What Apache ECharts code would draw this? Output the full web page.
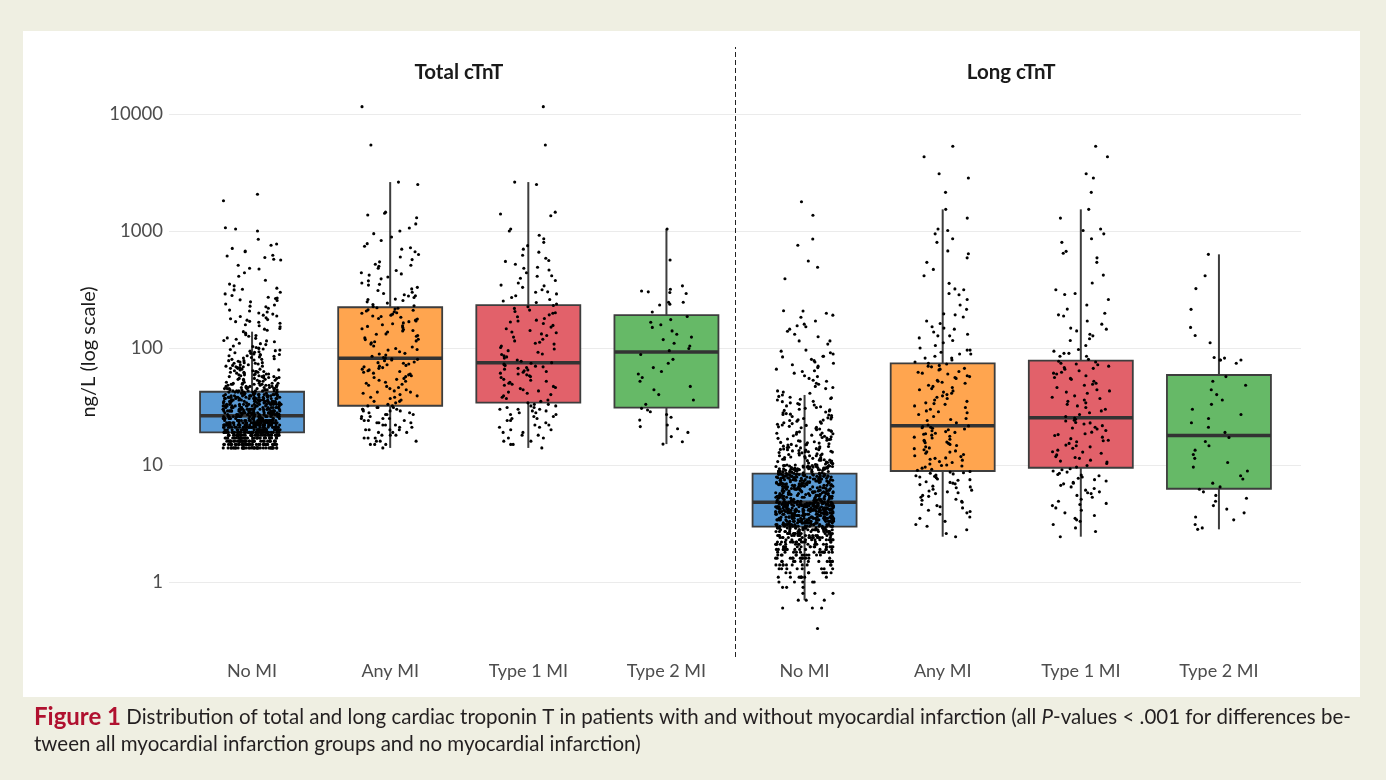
<!DOCTYPE html>
<html><head><meta charset="utf-8">
<script src="https://cdn.jsdelivr.net/npm/echarts@6/dist/echarts.min.js"></script>
<style>html,body{margin:0;padding:0;background:#efefe2;}#c{width:1386px;height:780px;}</style>
</head><body><div id="c"></div>
<script>
// ---------------- data ----------------
const categories = ['No MI','Any MI','Type 1 MI','Type 2 MI','No MI','Any MI','Type 1 MI','Type 2 MI'];
const panelTitles = ['Total cTnT','Long cTnT'];
const yTicks = [1,10,100,1000,10000];
// box stats: [lower whisker, Q1, median, Q3, upper whisker]
const boxTotal = [[14,19.0,26.4,42.3,138],[14,32.1,81.6,223,2620],[14,34.1,74.9,233,2620],[15.1,30.9,92.4,191,1040]];
const boxLong  = [[0.7,2.97,4.8,8.43,39.7],[2.44,8.89,21.7,74.0,1532],[2.44,9.48,25.4,77.9,1532],[2.82,6.27,17.9,58.8,632]];

const totNoMI = [
14,14,14,14,14,14,14,14,14,14,14,14,14,14,14,14,14,14,14,14,14,14,14,14,14,14,14,14,14,14,14,14,14,14,14,14,14,14,
15,15,15,15,15,15,15,15,15,15,15,15,15,15,15,15,15,15,15,15,15,15,15,15,15,15,15,15,15,15,15,15,15,15,15,15,15,15,
16,16,16,16,16,16,16,16,16,16,16,16,16,16,16,16,16,16,16,16,16,16,16,16,16,16,16,16,16,16,16,16,16,16,16,16,16,
17,17,17,17,17,17,17,17,17,17,17,17,17,17,17,17,17,17,17,17,17,17,17,17,17,17,17,17,17,17,17,17,17,17,17,17,
18,18,18,18,18,18,18,18,18,18,18,18,18,18,18,18,18,18,18,18,18,18,18,18,18,18,18,18,18,18,18,18,18,18,18,
19,19,19,19,19,19,19,19,19,19,19,19,19,19,19,19,19,19,19,19,19,19,19,19,19,19,19,19,19,19,19,19,19,19,
20,20,20,20,20,20,20,20,20,20,20,20,20,20,20,20,20,20,20,20,20,20,20,20,20,20,20,20,20,20,20,20,20,
21,21,21,21,21,21,21,21,21,21,21,21,21,21,21,21,21,21,21,21,21,21,21,21,21,21,21,21,21,21,21,21,
22,22,22,22,22,22,22,22,22,22,22,22,22,22,22,22,22,22,22,22,22,22,22,22,22,22,22,22,22,22,22,
23,23,23,23,23,23,23,23,23,23,23,23,23,23,23,23,23,23,23,23,23,23,23,23,23,23,23,23,23,23,
24,24,24,24,24,24,24,24,24,24,24,24,24,24,24,24,24,24,24,24,24,24,24,24,24,24,24,24,24,
25,25,25,25,25,25,25,25,25,25,25,25,25,25,25,25,25,25,25,25,25,25,
26,26,26,26,26,26,26,26,26,26,26,26,26,26,26,26,26,26,26,26,26,
27,27,27,27,27,27,27,27,27,27,27,27,27,27,27,27,27,27,27,27,
28,28,28,28,28,28,28,28,28,28,28,28,28,28,28,28,28,28,28,
29,29,29,29,29,29,29,29,29,29,29,29,29,29,29,29,29,29,
30,30,30,30,30,30,30,30,30,30,30,30,30,30,30,30,30,30,
31,31,31,31,31,31,31,31,31,31,31,31,31,31,31,32,32,32,32,32,32,32,32,32,32,32,32,32,32,
33,33,33,33,33,33,33,33,33,33,33,33,33,33,34,34,34,34,34,34,34,34,34,34,34,34,34,34,
35,35,35,35,35,35,35,35,35,35,35,35,35,36,36,36,36,36,36,36,36,36,36,36,36,36,
37,37,37,37,37,37,37,37,37,37,37,37,38,38,38,38,38,38,38,38,38,38,38,38,
39,39,39,39,39,39,39,39,39,39,39,39,40,40,40,40,40,40,40,40,40,40,40,
41,41,41,41,41,41,42,42,42,42,42,42,42,43,43,43,43,43,43,44,44,44,44,44,44,45,45,45,45,45,45,
46,46,46,46,46,47,47,47,47,47,48,48,48,48,48,49,49,49,49,49,50,50,50,50,50,41,43,45,47,
51,52,53,53,54,55,56,56,57,58,59,60,60,61,62,63,64,65,65,66,67,68,69,70,52,55,58,61,64,67,
51,53,54,55,57,58,59,62,63,66,68,70,54,57,60,63,69,56,59,62,
71,72,73,74,75,76,78,79,80,82,84,85,86,87,88,90,92,93,95,96,98,99,
72,74,77,78,81,83,86,89,91,94,97,100,75,80,88,
101,104,107,110,113,116,119,122,126,130,134,138,103,109,115,121,128,
142,147,152,158,163,168,169,173,175,181,188,191,195,203,211,219,225,228,238,248,
145,155,166,178,186,199,207,233,
255,258,265,267,272,281,290,300,314,318,325,340,352,380,410,440,473,480,510,
565,574,594,611,620,665,675,710,755,774,850,1000,1040,1067,1816,2060
];
const totAny = [
14,15,15,16,16,16,17,17,18,18,18,19,19,19,20,20,20,21,21,22,22,22,23,23,24,24,24,25,25,25,26,26,27,27,27,28,28,29,29,29,30,30,30,31,31,31,32,32,15,17,20,23,
33,34,35,35,36,37,38,38,39,40,41,42,42,43,44,46,47,48,49,50,51,52,54,55,56,57,58,59,61,62,63,64,66,67,68,69,70,72,73,74,75,76,78,79,80,81,82,45,53,60,65,71,
83,85,87,89,90,93,96,97,99,102,104,108,111,113,115,118,119,122,126,128,131,132,137,140,141,144,146,150,153,155,158,161,164,168,170,173,177,179,183,186,188,191,195,198,200,204,207,210,212,215,219,221,
226,230,235,242,248,255,260,262,270,278,280,285,292,300,310,320,330,345,350,360,375,390,405,420,430,440,460,480,500,510,520,545,570,600,630,665,700,720,740,780,830,890,950,1000,1060,1150,1300,1370,1420,1450,2500,2620,
5430,11560
];
const totType1 = [
14,15,15,16,16,17,18,18,19,19,20,20,21,22,22,23,24,24,25,26,26,27,28,28,29,29,30,30,31,31,32,32,33,33,34,17,21,25,27,30,
35,36,37,38,39,40,41,42,43,44,45,46,47,48,49,50,52,53,54,56,57,58,60,61,62,64,65,66,67,68,69,70,71,72,73,74,75,51,59,63,
77,79,82,84,86,89,92,95,98,101,104,108,112,115,119,124,128,132,137,141,146,151,156,162,167,173,179,185,192,198,205,211,218,225,231,88,110,135,170,200,
238,245,252,260,270,280,290,302,315,330,345,360,378,395,415,440,465,490,520,550,585,620,660,700,750,800,860,920,1000,1040,1350,1400,1450,2500,2620,300,340,410,480,560,
5430,11560
];
const totType2 = [
15.1,15.8,17.5,19.0,20.4,21.3,22,24.2,25.6,27,28.5,29.5,30.5,
33,36,40,44,47,52,56,60,63,68,74,80,88,
95,99,104,110,118,124,131,140,150,158,166,175,186,
203,233,237,246,246,292,298,302,307,318,340,565,1040
];
const longNoMI = [
0.4,0.6,0.6,0.6,0.7,0.7,0.7,0.8,0.8,0.8,0.9,0.9,0.9,
1,1,1,1,1.1,1.1,1.1,1.1,1.1,1.1,1.2,1.2,1.2,1.2,1.2,1.3,1.3,1.3,1.3,1.3,1.4,1.4,1.4,1.4,1.4,1.4,
1.5,1.5,1.5,1.5,1.5,1.5,1.5,1.6,1.6,1.6,1.6,1.6,1.6,1.7,1.7,1.7,1.7,1.7,1.7,1.8,1.8,1.8,1.8,1.8,1.8,1.8,1.9,1.9,1.9,1.9,1.9,1.9,1.9,
1,1.1,1.1,1.2,1.2,1.3,1.3,1.3,1.4,1.4,1.4,1.5,1.5,1.5,1.6,1.6,1.6,1.7,1.7,1.7,1.8,1.8,1.8,1.9,1.9,1.9,1.9,
1.2,1.4,1.5,1.6,1.7,1.8,1.9,1.5,1.7,1.9,1.6,1.8,
2,2,2,2,2,2,2,2,2,2,2,2,2.1,2.1,2.1,2.1,2.1,2.1,2.1,2.1,2.1,2.1,2.1,2.1,2.2,2.2,2.2,2.2,2.2,2.2,2.2,2.2,2.2,2.2,2.2,2.2,
2.3,2.3,2.3,2.3,2.3,2.3,2.3,2.3,2.3,2.3,2.3,2.3,2.4,2.4,2.4,2.4,2.4,2.4,2.4,2.4,2.4,2.4,2.4,2.4,2.5,2.5,2.5,2.5,2.5,2.5,2.5,2.5,2.5,2.5,2.5,2.5,
2.6,2.6,2.6,2.6,2.6,2.6,2.6,2.6,2.6,2.6,2.6,2.6,2.7,2.7,2.7,2.7,2.7,2.7,2.7,2.7,2.7,2.7,2.7,2.7,2.8,2.8,2.8,2.8,2.8,2.8,2.8,2.8,2.8,2.8,2.8,2.8,
2.9,2.9,2.9,2.9,2.9,2.9,2.9,2.9,2.9,2.9,2.9,2.9,
2,2.1,2.2,2.3,2.4,2.5,2.6,2.7,2.8,2.9,2.2,2.4,2.6,2.8,2.1,2.5,2.9,2.3,2.7,2,
3,3,3,3,3,3,3,3,3,3,3,3,3,3,3,3,3.1,3.1,3.1,3.1,3.1,3.1,3.1,3.1,3.1,3.1,3.1,3.1,3.1,3.1,3.1,3.1,3.1,
3.2,3.2,3.2,3.2,3.2,3.2,3.2,3.2,3.2,3.2,3.2,3.2,3.2,3.2,3.2,3.2,3.3,3.3,3.3,3.3,3.3,3.3,3.3,3.3,3.3,3.3,3.3,3.3,3.3,3.3,3.3,
3.4,3.4,3.4,3.4,3.4,3.4,3.4,3.4,3.4,3.4,3.4,3.4,3.4,3.4,3.4,3.4,3.5,3.5,3.5,3.5,3.5,3.5,3.5,3.5,3.5,3.5,3.5,3.5,3.5,3.5,3.5,3.5,3.5,
3.6,3.6,3.6,3.6,3.6,3.6,3.6,3.6,3.6,3.6,3.6,3.6,3.6,3.6,3.6,3.6,3.7,3.7,3.7,3.7,3.7,3.7,3.7,3.7,3.7,3.7,3.7,3.7,3.7,3.7,3.7,
3.8,3.8,3.8,3.8,3.8,3.8,3.8,3.8,3.8,3.8,3.8,3.8,3.8,3.8,3.8,3.8,3.8,3.9,3.9,3.9,3.9,3.9,3.9,3.9,3.9,3.9,3.9,3.9,3.9,3.9,3.9,3.9,3.9,
4,4,4,4,4,4,4,4,4,4,4,4,4,4,4,4,4,4.1,4.1,4.1,4.1,4.1,4.1,4.1,4.1,4.1,4.1,4.1,4.1,4.1,4.1,4.1,4.1,
4.2,4.2,4.2,4.2,4.2,4.2,4.2,4.2,4.2,4.2,4.2,4.2,4.2,4.2,4.2,4.2,4.3,4.3,4.3,4.3,4.3,4.3,4.3,4.3,4.3,4.3,4.3,4.3,4.3,4.3,4.3,
4.4,4.4,4.4,4.4,4.4,4.4,4.4,4.4,4.4,4.4,4.4,4.4,4.4,4.4,4.4,4.4,4.5,4.5,4.5,4.5,4.5,4.5,4.5,4.5,4.5,4.5,4.5,4.5,4.5,4.5,4.5,4.5,4.5,
4.6,4.6,4.6,4.6,4.6,4.6,4.6,4.6,4.6,4.6,4.6,4.6,4.6,4.6,4.6,4.7,4.7,4.7,4.7,4.7,4.7,4.7,4.7,4.7,4.7,4.7,4.7,4.7,4.7,4.7,4.7,
4.8,4.8,4.8,4.8,4.8,4.8,4.8,4.8,4.8,4.8,4.8,4.8,4.8,4.8,4.8,4.8,
4.9,4.9,4.9,4.9,4.9,4.9,5,5,5,5,5,5,5,5.1,5.1,5.1,5.1,5.1,5.1,5.2,5.2,5.2,5.2,5.2,5.2,5.3,5.3,5.3,5.3,5.3,5.3,5.3,5.4,5.4,5.4,5.4,5.4,5.4,5.5,5.5,5.5,5.5,5.5,5.5,
5.6,5.6,5.6,5.6,5.6,5.6,5.7,5.7,5.7,5.7,5.7,5.7,5.8,5.8,5.8,5.8,5.8,5.8,5.8,5.9,5.9,5.9,5.9,5.9,5.9,6,6,6,6,6,6,6.1,6.1,6.1,6.1,6.1,6.1,6.2,6.2,6.2,6.2,6.2,6.2,
6.3,6.3,6.3,6.3,6.3,6.3,6.4,6.4,6.4,6.4,6.4,6.4,6.5,6.5,6.5,6.5,6.5,6.5,6.6,6.6,6.6,6.6,6.6,6.7,6.7,6.7,6.7,6.7,6.7,6.8,6.8,6.8,6.8,6.8,6.8,6.9,6.9,6.9,6.9,6.9,6.9,
7,7,7,7,7,7,7.1,7.1,7.1,7.1,7.1,7.1,7.2,7.2,7.2,7.2,7.2,7.3,7.3,7.3,7.3,7.3,7.3,7.4,7.4,7.4,7.4,7.4,7.4,7.5,7.5,7.5,7.5,7.5,7.5,7.6,7.6,7.6,7.6,7.6,7.6,
7.7,7.7,7.7,7.7,7.7,7.8,7.8,7.8,7.8,7.8,7.8,7.9,7.9,7.9,7.9,7.9,7.9,8,8,8,8,8,8,8.1,8.1,8.1,8.1,8.1,8.2,8.2,8.2,8.2,8.2,8.2,8.3,8.3,8.3,8.3,8.3,8.3,8.4,8.4,8.4,8.4,8.4,
8.5,8.5,8.5,8.6,8.6,8.6,8.7,8.7,8.7,8.8,8.8,8.8,8.9,8.9,8.9,9,9,9,9.1,9.1,9.1,9.2,9.2,9.2,9.3,9.3,9.3,9.4,9.4,9.4,9.5,9.5,9.5,9.6,9.6,9.6,9.7,9.7,9.7,9.8,9.8,9.8,9.9,9.9,9.9,
8.5,8.7,8.9,9.1,9.3,9.5,9.7,9.9,8.6,8.8,9,9.2,9.4,9.6,9.8,
10,10,10,10.1,10.3,10.5,10.6,10.8,11,11,11.2,11.4,11.5,11.7,12,12,12.3,12.6,12.8,12.9,13,13.2,13.5,13.6,13.8,14,14.2,14.6,14.8,
10.2,10.4,10.7,10.9,11.1,11.3,11.6,11.8,12.1,12.4,12.7,13.1,13.4,13.7,14.1,14.4,14.9,
10,10.5,11,11.5,12,12.5,13,13.5,14,14.5,10.3,11.2,12.2,13.3,14.3,
15,15,15.4,15.8,16,16.3,16.5,16.7,17,17.2,17.6,18,18.3,18.5,18.8,19,19.4,19.9,20,20.5,21,21.4,21.8,22,22.6,23,23.4,24,24.7,
15.2,15.6,16.1,16.9,17.4,18.1,18.7,19.6,20.3,21.2,22.3,23.7,24.4,
15.5,16.6,17.8,19.2,20.8,22.8,24.2,
25,25.6,26,26.5,27,27.5,28,29,29.6,30,31,31.5,32,33,34,35,36,37,38,39.7,
25.3,26.8,28.4,30.5,32.6,34.8,36.5,38.6,27.2,29.3,33.5,37.5,
41,43,45,47,49,52,55,58,61,64,68,72,76,80,84,85,85,89,91,94,96,
42,46,50,53,57,63,66,70,74,78,
108,115,115,125,131,139,145,152,155,160,170,183,191,198,207,208,
391,490,554,755,855,1362,1780
];
const longAny = [
2.44,2.6,2.8,3.0,3.1,3.3,3.5,3.6,3.8,3.9,4.0,4.1,4.3,4.4,4.5,4.6,4.8,4.9,5.0,5.1,5.3,5.4,5.5,5.7,5.8,5.9,6.0,6.1,6.2,6.4,6.5,6.6,6.8,6.9,7.0,7.1,7.2,7.4,7.5,7.6,7.8,7.9,8.0,8.1,8.2,8.4,8.5,8.6,8.7,8.8,
9.0,9.2,9.4,9.6,9.8,10,10.2,10.5,10.7,11,11.2,11.5,11.8,12,12.3,12.6,12.9,13.2,13.5,13.8,14,14.3,14.7,15,15.3,15.7,16,16.3,16.6,17,17.3,17.6,18,18.3,18.7,19,19.3,19.6,20,20.3,20.6,21,21.3,21.6,9.9,11.4,13,15.5,18.5,20.8,
22,23,24,25,26,27,28,29,30,31,32,33,34,35,36,37,38,39,40,42,43,44,46,47,48,50,51,53,55,56,58,60,61,63,65,67,69,71,73,74,24.5,28.5,33.5,41,45,52,57,62,66,70,
76,79,82,82,85,89,89,92,96,96,100,105,111,116,122,127,127,131,137,145,148,152,162,170,184,192,196,214,233,260,285,292,315,320,357,415,470,540,590,640,676,800,860,946,1010,1040,1290,1532,
2140,2840,3090,4310,5300
];
const longType1 = [
2.44,2.7,2.9,3.1,3.3,3.5,3.7,3.9,4.1,4.3,4.5,4.7,4.9,5.1,5.3,5.5,5.7,5.9,6.1,6.3,6.5,6.7,6.9,7.1,7.3,7.5,7.7,7.9,8.1,8.3,8.5,8.7,8.9,9.1,9.3,3.4,4.6,5.8,7.0,8.2,
9.6,9.9,10.3,10.6,11,11.4,11.8,12.2,12.6,13,13.4,13.9,14.3,14.8,15.3,15.8,16.3,16.8,17.3,17.9,18.5,19.1,19.7,20.3,21,21.7,22.4,23.1,23.8,24.6,25.2,10.8,12.9,14.6,16.1,18.2,20.7,22.9,24.1,11.6,
26,27,28,29,30,31,33,34,35,36,38,39,41,42,44,46,48,50,52,54,56,58,60,62,64,66,68,70,72,74,76,77,32,37,43,49,55,61,67,73,
80,85,85,90,90,94,97,105,116,120,127,131,140,145,148,160,170,188,192,198,215,233,260,287,292,315,360,420,540,590,645,670,800,860,946,1010,1040,1290,1532,
2140,2840,3090,4310,5300
];
const longType2 = [
2.82,2.9,3.1,3.4,3.6,3.9,4.2,4.5,4.9,5.2,5.5,5.9,6.2,
6.5,7.0,7.6,8.1,8.9,9.6,10.5,11.4,12.3,13.4,14.6,15.9,17.2,
19,21,23,25,27,30,33,36,40,44,48,52,57,
74,79,79,79,82,83,111,128,150,214,322,415,632
];

// ---------------- chart ----------------
const FONT = 'Lato, "Open Sans", sans-serif';
const Y_MIN = 0.2286, Y_MAX = 37400, TITLE_Y = 22900;
const groupColors = ['#5b9bd5','#ffa54f','#e2616a','#66b967'];
const groups = [totNoMI, totAny, totType1, totType2, longNoMI, longAny, longType1, longType2];
const boxes = boxTotal.concat(boxLong).map((b, i) => [i].concat(b));
const points = [];
groups.forEach((g, i) => g.forEach(v => points.push([i, v])));

const chart = echarts.init(document.getElementById('c'), null, {renderer: 'canvas'});
const option = {
  backgroundColor: '#efefe2',
  animation: false,
  graphic: [
    {type: 'rect', z: -100, shape: {x: 23, y: 31, width: 1337, height: 666}, style: {fill: '#ffffff'}},
    {type: 'text', x: 34, y: 717, style: {
      text: '{b|Figure 1} Distribution of total and long cardiac troponin T in patients with and without myocardial infarction (all {i|P}-values < .001 for differences be-',
      font: '20.5px ' + FONT, fill: '#231f20', verticalAlign: 'middle',
      rich: {b: {fontSize: 24, fontWeight: 'bold', fill: '#b0112f', fontFamily: FONT},
             i: {fontSize: 20.5, fontStyle: 'italic', fill: '#231f20', fontFamily: FONT}}}},
    {type: 'text', x: 34, y: 744, style: {
      text: 'tween all myocardial infarction groups and no myocardial infarction)',
      font: '20.5px ' + FONT, fill: '#231f20', verticalAlign: 'middle'}}
  ],
  grid: [
    {left: 183, top: 47, width: 1105, height: 610, containLabel: false, outerBoundsMode: 'none'},
    {left: 169, top: 47, width: 1132, height: 610, containLabel: false, outerBoundsMode: 'none'}
  ],
  xAxis: [
    {type: 'category', gridIndex: 0, data: categories, boundaryGap: true, jitter: 58, jitterOverlap: true,
     axisLine: {show: false}, axisTick: {show: false}, splitLine: {show: false},
     axisLabel: {interval: 0, color: '#4d4d4d', fontFamily: FONT, fontSize: 18, margin: 5}},
    {type: 'value', gridIndex: 1, min: -0.6, max: 7.6, show: false}
  ],
  yAxis: [
    {type: 'log', logBase: 10, gridIndex: 0, min: Y_MIN, max: Y_MAX, show: false},
    {type: 'log', logBase: 10, gridIndex: 1, min: Y_MIN, max: Y_MAX,
     name: 'ng/L (log scale)', nameLocation: 'middle', nameRotate: 90, nameGap: 63,
     nameTextStyle: {color: '#1a1a1a', fontFamily: FONT, fontSize: 20},
     axisLine: {show: false}, axisTick: {show: false},
     axisLabel: {color: '#4d4d4d', fontFamily: FONT, fontSize: 18.5, margin: 6,
       formatter: v => { const r = Math.round(v); return yTicks.indexOf(r) >= 0 ? String(r) : ''; }},
     splitLine: {show: true, showMinLine: false, showMaxLine: false, lineStyle: {color: '#ebebeb', width: 1}}}
  ],
  series: [
    {type: 'custom', xAxisIndex: 0, yAxisIndex: 0, data: boxes, z: 2, silent: true,
     encode: {x: 0, y: [1, 2, 3, 4, 5]},
     renderItem: function (params, api) {
       const i = api.value(0);
       const pMin = api.coord([i, api.value(1)]);
       const pQ1 = api.coord([i, api.value(2)]);
       const pMed = api.coord([i, api.value(3)]);
       const pQ3 = api.coord([i, api.value(4)]);
       const pMax = api.coord([i, api.value(5)]);
       const x = pMed[0], half = 52;
       const edge = '#3d3d3d';
       return {type: 'group', children: [
         {type: 'line', shape: {x1: x, y1: pQ3[1], x2: x, y2: pMax[1]}, style: {stroke: edge, lineWidth: 2}},
         {type: 'line', shape: {x1: x, y1: pMin[1], x2: x, y2: pQ1[1]}, style: {stroke: edge, lineWidth: 2}},
         {type: 'rect', shape: {x: x - half, y: pQ3[1], width: half * 2, height: pQ1[1] - pQ3[1]},
          style: {fill: groupColors[i % 4], stroke: edge, lineWidth: 1.8}},
         {type: 'line', shape: {x1: x - half, y1: pMed[1], x2: x + half, y2: pMed[1]}, style: {stroke: '#333333', lineWidth: 3.5}}
       ]};
     }},
    {type: 'scatter', xAxisIndex: 0, yAxisIndex: 0, data: points, symbolSize: 3.1, large: false, largeThreshold: 100000, z: 3, silent: true,
     itemStyle: {color: '#000000', opacity: 1}},
    {type: 'scatter', xAxisIndex: 1, yAxisIndex: 1, data: [], silent: true,
     markLine: {silent: true, symbol: ['none', 'none'], label: {show: false},
       lineStyle: {type: [5, 3], color: '#222222', width: 1}, data: [{xAxis: 3.5}]},
     markPoint: {silent: true, symbol: 'circle', symbolSize: 0,
       label: {show: true, position: 'inside', formatter: p => p.name, color: '#1a1a1a', fontFamily: FONT, fontSize: 20.5, fontWeight: 'bold'},
       data: [{name: panelTitles[0], coord: [1.5, TITLE_Y]}, {name: panelTitles[1], coord: [5.5, TITLE_Y]}]}}
  ]
};
chart.setOption(option);
</script></body></html>
